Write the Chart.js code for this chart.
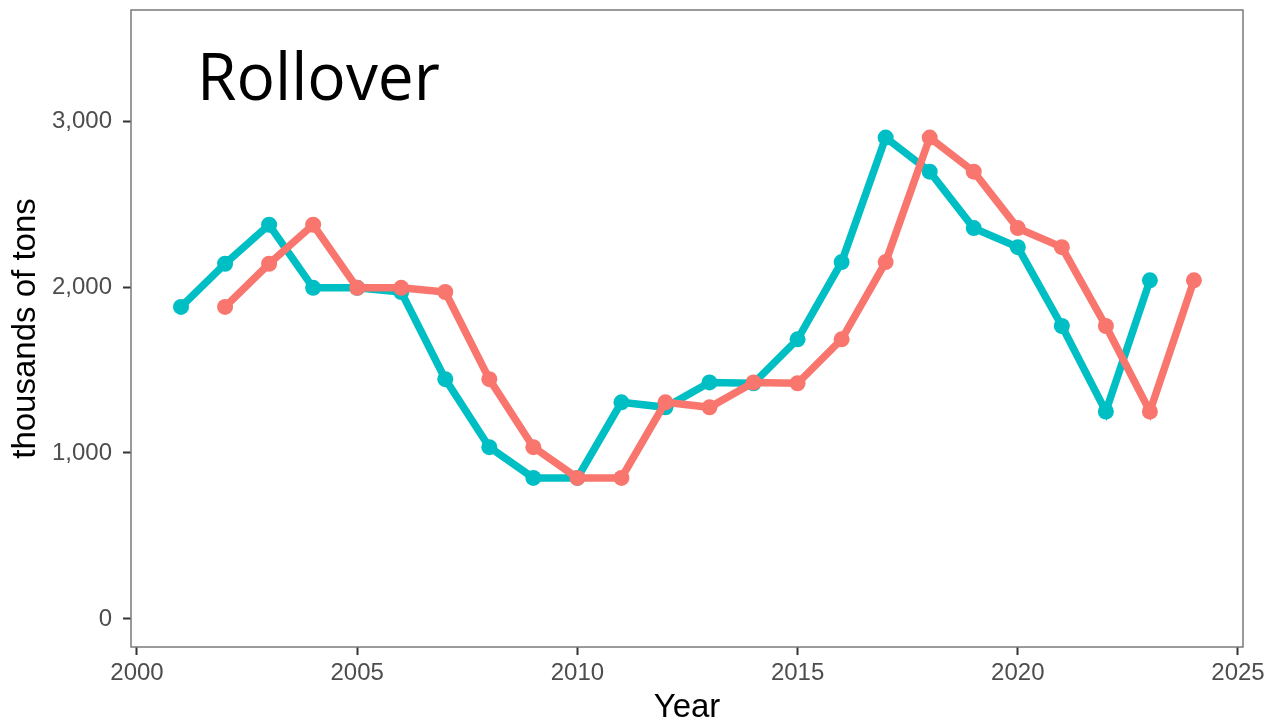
<!DOCTYPE html>
<html lang="en">
<head>
    <meta charset="UTF-8">
    <title>Rollover</title>
    <script src="https://cdn.jsdelivr.net/npm/chart.js"></script>
    <style>
        html, body { margin: 0; padding: 0; background: #fff; }
        #wrap { width: 1280px; height: 726px; }
    </style>
</head>
<body>
    <div id="wrap"><canvas id="rolloverChart"></canvas></div>

    <script>
        // Catch series (thousands of tons)
        const catchYears = [2001, 2002, 2003, 2004, 2005, 2006, 2007, 2008, 2009, 2010, 2011, 2012,
                            2013, 2014, 2015, 2016, 2017, 2018, 2019, 2020, 2021, 2022, 2023];
        const catchValues = [1880, 2140, 2375, 1995, 1995, 1970, 1445, 1035, 850, 850, 1305, 1275,
                             1425, 1420, 1685, 2150, 2900, 2695, 2355, 2240, 1765, 1250, 2040];

        // Same values rolled over one year
        const rolloverYears = [2002, 2003, 2004, 2005, 2006, 2007, 2008, 2009, 2010, 2011, 2012, 2013,
                               2014, 2015, 2016, 2017, 2018, 2019, 2020, 2021, 2022, 2023, 2024];
        const rolloverValues = [1880, 2140, 2375, 1995, 1995, 1970, 1445, 1035, 850, 850, 1305, 1275,
                                1425, 1420, 1685, 2150, 2900, 2695, 2355, 2240, 1765, 1250, 2040];

        const xTicks = [2000, 2005, 2010, 2015, 2020, 2025];
        const yTicks = [0, 1000, 2000, 3000];
        const titleText = 'Rollover';

        const TEAL = '#00BFC4';
        const RED = '#F8766D';

        const toPoints = (xs, ys) => xs.map((x, i) => ({ x, y: ys[i] }));

        // panel border + big title inside the panel
        const panelPlugin = {
            id: 'panel',
            beforeDatasetsDraw(chart) {
                const { ctx, chartArea: a } = chart;
                ctx.save();
                ctx.strokeStyle = '#7a7a7a';
                ctx.lineWidth = 1.5;
                ctx.strokeRect(a.left, a.top, a.right - a.left, a.bottom - a.top);
                ctx.restore();
            },
            afterDraw(chart) {
                const { ctx, chartArea: a } = chart;
                ctx.save();
                ctx.font = '66px "Open Sans", "Noto Sans", sans-serif';
                ctx.fillStyle = '#000';
                ctx.textBaseline = 'alphabetic';
                const w = ctx.measureText(titleText).width;
                ctx.translate(a.left + 66, 100);
                ctx.scale(243 / w, 1);
                ctx.fillText(titleText, 0, 0);
                ctx.restore();
            }
        };

        const noPad = s => {
            s.paddingTop = 0; s.paddingBottom = 0;
            s.paddingLeft = 0; s.paddingRight = 0;
        };

        const tickGrid = {
            drawOnChartArea: false,
            drawTicks: true,
            tickLength: 8,
            tickWidth: 2,
            tickColor: '#333'
        };
        const tickFont = { family: 'Arial, "Liberation Sans", sans-serif', size: 24 };
        const titleFont = { family: 'Arial, "Liberation Sans", sans-serif', size: 33, lineHeight: 1.1 };

        const ctx = document.getElementById('rolloverChart').getContext('2d');
        new Chart(ctx, {
            type: 'line',
            data: {
                datasets: [
                    {
                        label: 'rollover',
                        data: toPoints(rolloverYears, rolloverValues),
                        borderColor: RED,
                        backgroundColor: RED,
                        borderWidth: 7.5,
                        pointRadius: 8,
                        pointBorderWidth: 0,
                        order: 0
                    },
                    {
                        label: 'catch',
                        data: toPoints(catchYears, catchValues),
                        borderColor: TEAL,
                        backgroundColor: TEAL,
                        borderWidth: 7.5,
                        pointRadius: 8,
                        pointBorderWidth: 0,
                        order: 1
                    }
                ]
            },
            options: {
                responsive: true,
                maintainAspectRatio: false,
                animation: false,
                layout: { padding: { top: 10, right: 37, left: 0, bottom: 0 } },
                plugins: {
                    legend: { display: false },
                    tooltip: { enabled: false }
                },
                scales: {
                    x: {
                        type: 'linear',
                        min: 1999.864,
                        max: 2025.114,
                        afterBuildTicks: s => { s.ticks = xTicks.map(v => ({ value: v })); },
                        afterFit: s => { s.height = 79; noPad(s); },
                        border: { display: false },
                        grid: tickGrid,
                        ticks: {
                            padding: 4,
                            color: '#4d4d4d',
                            font: tickFont,
                            callback: v => String(v)
                        },
                        title: {
                            display: true,
                            text: 'Year',
                            color: '#000',
                            font: titleFont,
                            padding: { top: 0, bottom: 0 }
                        }
                    },
                    y: {
                        min: -168.7,
                        max: 3668.7,
                        afterBuildTicks: s => { s.ticks = yTicks.map(v => ({ value: v })); },
                        afterFit: s => { s.width = 131; noPad(s); },
                        border: { display: false },
                        grid: tickGrid,
                        ticks: {
                            padding: 11,
                            color: '#4d4d4d',
                            font: tickFont,
                            callback: v => v.toLocaleString('en-US')
                        },
                        title: {
                            display: true,
                            text: 'thousands of tons',
                            color: '#000',
                            font: titleFont,
                            padding: { top: 8, bottom: 0 }
                        }
                    }
                }
            },
            plugins: [panelPlugin]
        });
    </script>
</body>
</html>
